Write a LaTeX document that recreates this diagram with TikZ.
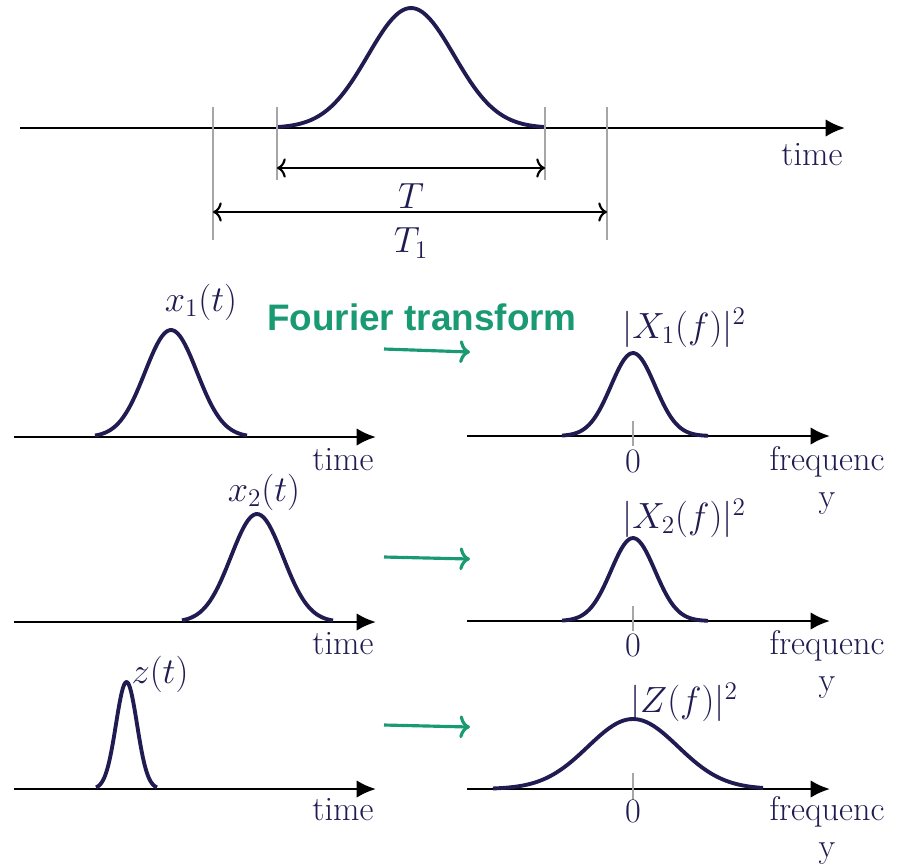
\documentclass[tikz,border=0pt]{standalone}
\usepackage{fontspec}
\newfontfamily\ftfont{Liberation Sans}
\usetikzlibrary{arrows.meta,calc}

\definecolor{navy}{RGB}{32,28,82}
\definecolor{ftgreen}{RGB}{26,154,114}
\tikzset{
  axis/.style={line width=1.6pt,-{Latex[length=11pt,width=10pt]}},
  pulse/.style={navy,line width=2.2pt,line join=round},
  guide/.style={black!35,line width=0.9pt},
  span/.style={line width=1.2pt,{To[length=5pt,width=11pt]}-{To[length=5pt,width=11pt]}},
  ftarrow/.style={ftgreen,line width=1.8pt,-{To[length=6pt,width=13pt]}},
  lbl/.style={navy,font=\fontsize{19.5}{21}\selectfont,inner sep=0pt,align=center},
}

\begin{document}
\begin{tikzpicture}[x=0.02cm,y=-0.02cm]
   \useasboundingbox (0,0) rectangle (901,866);

   \coordinate (a0) at (20,128);
   \coordinate (a1) at (845,128);
   \draw[axis] (a0) -- (a1);
   \draw[pulse] plot[domain=277:545,samples=80] (\x,{128-120*exp(-((\x-411)/43)^2/2)});
   \node[lbl,anchor=base] (time0) at (812,165) {time};
   \coordinate (g1a) at (213,107); \coordinate (g1b) at (213,240);
   \coordinate (g2a) at (277,107); \coordinate (g2b) at (277,180);
   \coordinate (g3a) at (545,107); \coordinate (g3b) at (545,180);
   \coordinate (g4a) at (607,107); \coordinate (g4b) at (607,240);
   \draw[guide] (g1a) -- (g1b);
   \draw[guide] (g2a) -- (g2b);
   \draw[guide] (g3a) -- (g3b);
   \draw[guide] (g4a) -- (g4b);
   \draw[span] (g2a |- 0,168) -- (g3a |- 0,168);
   \draw[span] (g1a |- 0,212) -- (g4a |- 0,212);
   \node[lbl] (T) at (411,196) {$T$};
   \node[lbl] (T1) at (411,243) {$T_1$};

   \node[ftgreen,font=\ftfont\bfseries\fontsize{21}{24}\selectfont,inner sep=0pt] (ft) at (422,317) {Fourier transform};

   \coordinate (l1a) at (14,437);  \coordinate (l1b) at (376,437);
   \coordinate (l2a) at (14,622);  \coordinate (l2b) at (376,622);
   \coordinate (l3a) at (14,789);  \coordinate (l3b) at (376,789);
   \coordinate (r1a) at (467,436); \coordinate (r1b) at (830,436);
   \coordinate (r2a) at (467,621); \coordinate (r2b) at (830,621);
   \coordinate (r3a) at (467,789); \coordinate (r3b) at (830,789);
   \draw[axis] (l1a) -- (l1b);
   \draw[axis] (l2a) -- (l2b);
   \draw[axis] (l3a) -- (l3b);
   \draw[axis] (r1a) -- (r1b);
   \draw[axis] (r2a) -- (r2b);
   \draw[axis] (r3a) -- (r3b);

   \draw[guide] (633,421) -- (633,446);
   \draw[guide] (633,606) -- (633,631);
   \draw[guide] (633,773) -- (633,800);

   \draw[pulse] plot[domain=95:247,samples=60] (\x,{437-107*exp(-((\x-171)/26)^2/2)});
   \draw[pulse] plot[domain=182:333,samples=60] (\x,{622-108*exp(-((\x-257)/26)^2/2)});
   \draw[pulse] plot[domain=96:157,samples=60] (\x,{789-107*exp(-((\x-126.5)/10.5)^2/2)});
   \draw[pulse] plot[domain=562:708,samples=60] (\x,{436-83*exp(-((\x-633)/22)^2/2)});
   \draw[pulse] plot[domain=562:708,samples=60] (\x,{621-83*exp(-((\x-633)/22)^2/2)});
   \draw[pulse] plot[domain=493:763,samples=80] (\x,{789-70*exp(-((\x-633)/45)^2/2)});

   \node[lbl] (x1) at (201,302) {$x_1(t)$};
   \node[lbl] (x2) at (264,492) {$x_2(t)$};
   \node[lbl] (z) at (160,674) {$z(t)$};
   \node[lbl] (X1) at (684,328) {$|X_1(f)|^2$};
   \node[lbl] (X2) at (684,518) {$|X_2(f)|^2$};
   \node[lbl] (Z) at (684,702) {$|Z(f)|^2$};

   \node[lbl,anchor=base] (time1) at (343,470) {time};
   \node[lbl,anchor=base] (time2) at (343,654) {time};
   \node[lbl,anchor=base] (time3) at (343,820) {time};
   \node[lbl,anchor=base] (zero1) at (633,472) {0};
   \node[lbl,anchor=base] (zero2) at (633,656) {0};
   \node[lbl,anchor=base] (zero3) at (633,822) {0};
   \node[lbl,anchor=north] (freq1) at (827,446) {frequenc\\y};
   \node[lbl,anchor=north] (freq2) at (827,630) {frequenc\\y};
   \node[lbl,anchor=north] (freq3) at (827,796) {frequenc\\y};

   \coordinate (f1a) at (384,349); \coordinate (f1b) at (470,352);
   \coordinate (f2a) at (384,557); \coordinate (f2b) at (470,559);
   \coordinate (f3a) at (384,725); \coordinate (f3b) at (470,727);
   \draw[ftarrow] (f1a) -- (f1b);
   \draw[ftarrow] (f2a) -- (f2b);
   \draw[ftarrow] (f3a) -- (f3b);
\end{tikzpicture}
\end{document}
